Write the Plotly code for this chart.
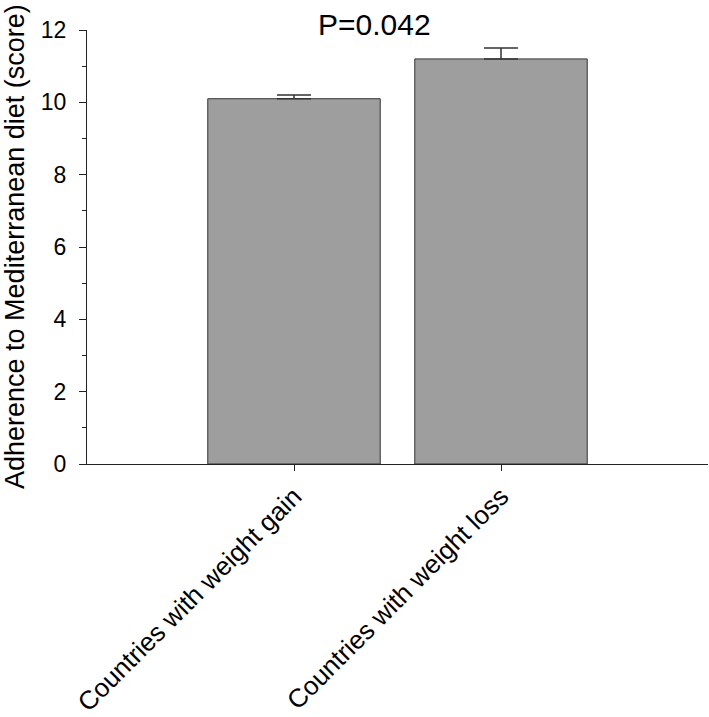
import plotly.graph_objects as go

# data
groups = ["Countries with weight gain", "Countries with weight loss"]
scores = [10.1, 11.2]
errors = [0.1, 0.3]
y_ticks = [0, 2, 4, 6, 8, 10, 12]
p_label = "P=0.042"

FONT = "Liberation Sans, Arial, sans-serif"


def main():
    fig = go.Figure()
    fig.add_trace(go.Bar(
        x=groups,
        y=scores,
        width=0.833,
        marker=dict(color="#9e9e9e", line=dict(color="#333333", width=1)),
        error_y=dict(type="data", array=errors, arrayminus=[0] * len(errors),
                     symmetric=False, color="#333333", thickness=1.5, width=17),
    ))

    fig.update_layout(
        width=709, height=717,
        margin=dict(l=87, r=1, t=30, b=253),
        plot_bgcolor="white", paper_bgcolor="white",
        showlegend=False,
        font=dict(family=FONT, color="black"),
        xaxis=dict(
            type="category",
            range=[-1, 2],
            automargin=False,
            showline=True, linecolor="#222222", linewidth=1,
            ticks="outside", ticklen=6, tickcolor="#222222",
            tickangle=-45,
            tickfont=dict(size=26),
            showgrid=False, zeroline=False,
        ),
        yaxis=dict(
            range=[0, 12],
            tickvals=y_ticks,
            automargin=False,
            showline=True, linecolor="#222222", linewidth=1,
            ticks="outside", ticklen=7, tickcolor="#222222",
            tickfont=dict(size=23),
            ticklabelstandoff=8,
            minor=dict(dtick=1, ticks="outside", ticklen=4, tickcolor="#222222"),
            showgrid=False, zeroline=False,
        ),
    )

    # y title as annotation so it can sit close to the left edge
    fig.add_annotation(
        text="Adherence to Mediterranean diet (score)",
        xref="paper", yref="paper", x=0, y=0.5, xshift=-72,
        xanchor="center", yanchor="middle", textangle=-90,
        showarrow=False, font=dict(size=27),
    )

    fig.add_annotation(
        text=p_label,
        xref="x", yref="paper", x=0.39, y=1, yshift=6,
        xanchor="center", yanchor="middle",
        showarrow=False, font=dict(size=30),
    )

    # drop the page's default 8px body margin so the figure sits at 0,0
    fig.write_html("out.html", config={"displayModeBar": False},
                   post_script="document.body.style.margin='0';")


if __name__ == '__main__':
    main()
